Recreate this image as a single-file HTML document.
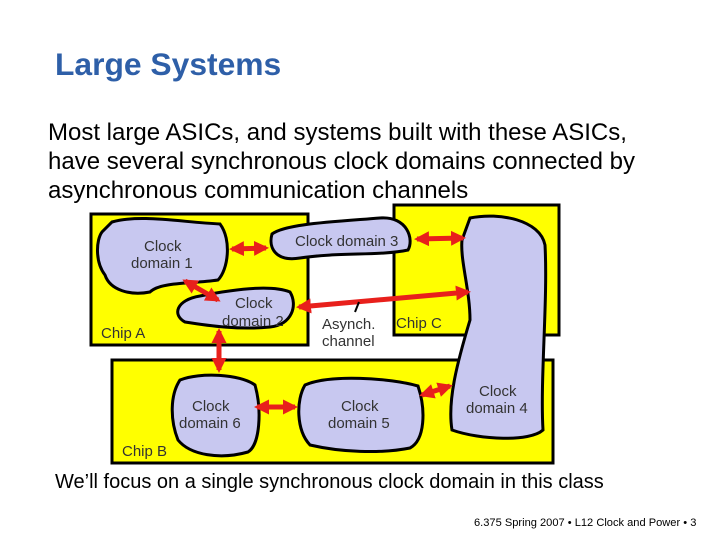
<!DOCTYPE html>
<html><head><style>
body{margin:0;width:720px;height:540px;background:#fff;overflow:hidden;position:relative;font-family:"Liberation Sans",Arial,sans-serif}
.t{position:absolute;white-space:nowrap}
</style></head><body>
<div class="t" style="left:55px;top:46px;font-size:31.8px;font-weight:bold;color:#2e5fa8">Large Systems</div>
<div class="t" style="left:48px;top:118px;font-size:24px;line-height:29px;color:#000">Most large ASICs, and systems built with these ASICs,<br>have several synchronous clock domains connected by<br>asynchronous communication channels</div>
<svg width="720" height="540" style="position:absolute;left:0;top:0" font-family="Liberation Sans, Arial, sans-serif" font-size="15" fill="#333">
<defs><marker id="a" viewBox="0 0 10 10" refX="8" refY="5" markerWidth="3" markerHeight="3" orient="auto-start-reverse"><path d="M0,0L10,5L0,10z" fill="#e8201c"/></marker></defs>
<g stroke="#000" stroke-width="3">
<rect x="91" y="214" width="217" height="131" fill="#ffff00"/>
<rect x="394" y="205" width="165" height="130" fill="#ffff00"/>
<rect x="112" y="360" width="441" height="103" fill="#ffff00"/>
<g fill="#c8c8f0">
<path d="M112,222 C140,214 180,222 220,224 C232,240 228,270 218,280 C190,284 160,282 150,292 C130,296 110,290 105,275 C95,262 96,240 102,232 Z"/>
<path d="M272,234 C285,224 330,222 380,218 C408,216 414,240 408,250 C380,256 340,252 300,258 C276,262 268,248 272,234 Z"/>
<path d="M200,296 C230,290 270,284 290,292 C298,305 292,325 270,327 C240,330 210,326 185,322 C172,315 176,300 200,296 Z"/>
<path d="M470,218 C500,212 540,220 545,245 C548,300 540,380 543,430 C530,442 480,440 452,430 C447,400 458,360 470,320 C470,290 460,260 462,240 Z"/>
<path d="M180,380 C200,372 240,374 255,385 C262,410 260,445 248,452 C220,460 190,455 178,440 C170,420 170,395 180,380 Z"/>
<path d="M305,385 C330,374 390,378 418,386 C426,410 425,440 410,448 C380,454 340,452 310,445 C296,430 296,400 305,385 Z"/>
</g></g>
<g stroke="#e8201c" stroke-width="5" marker-start="url(#a)" marker-end="url(#a)" fill="none">
<line x1="232" y1="249" x2="266" y2="248"/>
<line x1="417" y1="239" x2="463" y2="238"/>
<line x1="185" y1="281" x2="218" y2="300"/>
<line x1="299" y1="307" x2="468" y2="292"/>
<line x1="219" y1="331" x2="219" y2="370"/>
<line x1="257" y1="407" x2="295" y2="407"/>
<line x1="422" y1="395" x2="450" y2="386"/>
</g>
<line x1="355" y1="312" x2="359" y2="302" stroke="#000" stroke-width="2"/>
<text x="144" y="251">Clock</text><text x="131" y="268">domain 1</text>
<text x="295" y="246">Clock domain 3</text>
<text x="235" y="308">Clock</text><text x="222" y="326">domain 2</text>
<text x="101" y="338">Chip A</text>
<text x="322" y="329">Asynch.</text><text x="322" y="346">channel</text>
<text x="396" y="328">Chip C</text>
<text x="479" y="396">Clock</text><text x="466" y="413">domain 4</text>
<text x="192" y="411">Clock</text><text x="179" y="428">domain 6</text>
<text x="341" y="411">Clock</text><text x="328" y="428">domain 5</text>
<text x="122" y="456">Chip B</text>
</svg>
<div class="t" style="left:55px;top:471px;font-size:20px;color:#000">We’ll focus on a single synchronous clock domain in this class</div>
<div class="t" style="left:474px;top:517px;font-size:11.1px;color:#000">6.375 Spring 2007 • L12 Clock and Power • 3</div>
</body></html>
